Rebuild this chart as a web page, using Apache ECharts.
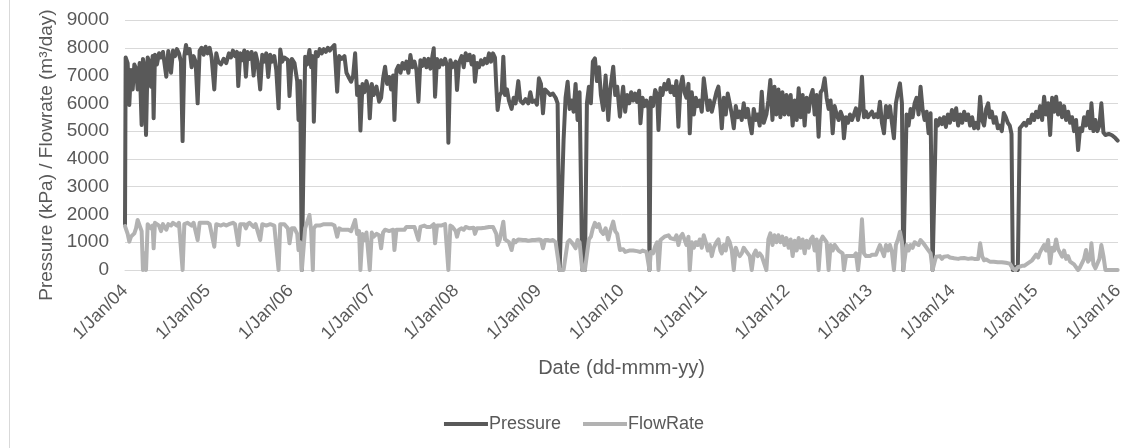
<!DOCTYPE html>
<html>
<head>
<meta charset="utf-8">
<title>Pressure / FlowRate</title>
<script src="https://cdn.jsdelivr.net/npm/echarts@6.0.0/dist/echarts.min.js"></script>
<style>
  html, body { margin: 0; padding: 0; background: #fff; }
  #chart { width: 1148px; height: 448px; }
</style>
</head>
<body>
<div id="chart"></div>
<script>
// sample dates as decimal years
const years = [
  2004.000, 2004.008, 2004.032, 2004.052, 2004.072, 2004.093, 2004.113, 2004.133, 2004.153, 2004.177,
  2004.201, 2004.217, 2004.233, 2004.254, 2004.274, 2004.294, 2004.314, 2004.334, 2004.346, 2004.362,
  2004.386, 2004.411, 2004.435, 2004.459, 2004.483, 2004.499, 2004.523, 2004.556, 2004.580, 2004.604,
  2004.628, 2004.652, 2004.676, 2004.696, 2004.717, 2004.737, 2004.757, 2004.781, 2004.805, 2004.829,
  2004.853, 2004.878, 2004.902, 2004.926, 2004.950, 2004.974, 2004.998, 2005.023, 2005.047, 2005.079,
  2005.103, 2005.127, 2005.159, 2005.192, 2005.224, 2005.256, 2005.280, 2005.304, 2005.329, 2005.353,
  2005.369, 2005.393, 2005.417, 2005.441, 2005.461, 2005.481, 2005.506, 2005.530, 2005.554, 2005.578,
  2005.602, 2005.634, 2005.659, 2005.683, 2005.707, 2005.731, 2005.755, 2005.779, 2005.804, 2005.828,
  2005.856, 2005.876, 2005.900, 2005.924,
  2005.968, 2005.988, 2006.016, 2006.048, 2006.081, 2006.097, 2006.117, 2006.137, 2006.157, 2006.177,
  2006.201, 2006.229, 2006.250, 2006.270, 2006.282, 2006.306, 2006.330, 2006.354, 2006.378, 2006.403,
  2006.427, 2006.451, 2006.475, 2006.499, 2006.531, 2006.564, 2006.588, 2006.620, 2006.652, 2006.676,
  2006.700, 2006.733, 2006.757, 2006.781, 2006.805, 2006.829, 2006.845, 2006.870, 2006.894, 2006.918,
  2006.942, 2006.958, 2006.982, 2007.006, 2007.039, 2007.071, 2007.095, 2007.119, 2007.143, 2007.167,
  2007.192, 2007.216, 2007.240, 2007.256, 2007.280, 2007.304, 2007.329, 2007.353, 2007.377, 2007.401,
  2007.425, 2007.449, 2007.473, 2007.498, 2007.522, 2007.546, 2007.570, 2007.594, 2007.618, 2007.643,
  2007.667, 2007.691, 2007.715, 2007.731, 2007.747, 2007.771, 2007.795, 2007.820, 2007.844, 2007.868,
  2007.892, 2007.908, 2007.932, 2007.957,
  2007.996, 2008.012, 2008.036, 2008.068, 2008.093, 2008.117, 2008.141, 2008.165, 2008.189, 2008.213,
  2008.229, 2008.254, 2008.278, 2008.302, 2008.326, 2008.350, 2008.374, 2008.399, 2008.423, 2008.447,
  2008.471, 2008.487, 2008.503, 2008.528, 2008.552, 2008.572, 2008.592, 2008.616, 2008.640, 2008.672,
  2008.697, 2008.721, 2008.753, 2008.777, 2008.809, 2008.841, 2008.874, 2008.898, 2008.922, 2008.954,
  2008.978, 2009.002, 2009.027, 2009.051, 2009.075, 2009.107, 2009.139, 2009.171, 2009.204, 2009.228,
  2009.252, 2009.276, 2009.300, 2009.324, 2009.349, 2009.373, 2009.397, 2009.421, 2009.445, 2009.469,
  2009.493, 2009.526, 2009.558, 2009.582, 2009.606, 2009.630, 2009.654, 2009.679, 2009.703, 2009.727,
  2009.751, 2009.779, 2009.808, 2009.840, 2009.864, 2009.900, 2009.924, 2009.948, 2009.981,
  2009.996, 2010.020, 2010.044, 2010.068, 2010.093, 2010.117, 2010.141, 2010.165, 2010.189, 2010.213,
  2010.229, 2010.254, 2010.278, 2010.302, 2010.326, 2010.338, 2010.354, 2010.382, 2010.407, 2010.431,
  2010.447, 2010.471, 2010.495, 2010.519, 2010.543, 2010.568, 2010.592, 2010.616, 2010.640, 2010.664,
  2010.688, 2010.713, 2010.737, 2010.761, 2010.785, 2010.809, 2010.825, 2010.849, 2010.874, 2010.898,
  2010.922, 2010.946, 2010.970, 2010.994, 2011.019, 2011.043, 2011.067, 2011.091, 2011.115, 2011.147,
  2011.171, 2011.196, 2011.212, 2011.236, 2011.260, 2011.284, 2011.308, 2011.333, 2011.357, 2011.381,
  2011.405, 2011.429, 2011.453, 2011.477, 2011.501, 2011.526, 2011.550, 2011.574, 2011.598, 2011.622,
  2011.646, 2011.670, 2011.695, 2011.719, 2011.751, 2011.775, 2011.799, 2011.824, 2011.848, 2011.872,
  2011.896, 2011.920, 2011.944, 2011.969, 2011.993,
  2012.020, 2012.044, 2012.068, 2012.093, 2012.117, 2012.141, 2012.165, 2012.189, 2012.213, 2012.237,
  2012.262, 2012.286, 2012.310, 2012.334, 2012.358, 2012.382, 2012.407, 2012.431, 2012.455, 2012.479,
  2012.503, 2012.527, 2012.552, 2012.576, 2012.600, 2012.624, 2012.648, 2012.672, 2012.688, 2012.713,
  2012.737, 2012.761, 2012.785, 2012.809, 2012.833, 2012.858, 2012.882, 2012.906, 2012.930, 2012.954,
  2012.978, 2013.002, 2013.027, 2013.051, 2013.075, 2013.099, 2013.123, 2013.147, 2013.172, 2013.196,
  2013.220, 2013.244, 2013.268, 2013.292, 2013.316, 2013.341, 2013.365, 2013.389, 2013.405, 2013.421,
  2013.445, 2013.469, 2013.494, 2013.518, 2013.542, 2013.566, 2013.590, 2013.614, 2013.638, 2013.663,
  2013.687, 2013.711, 2013.735, 2013.759, 2013.775, 2013.800, 2013.824, 2013.848, 2013.872, 2013.896,
  2013.920, 2013.944, 2013.969, 2013.993,
  2014.020, 2014.044, 2014.068, 2014.093, 2014.117, 2014.141, 2014.165, 2014.189, 2014.213, 2014.237,
  2014.262, 2014.286, 2014.310, 2014.334, 2014.358, 2014.382, 2014.407, 2014.431, 2014.451, 2014.475,
  2014.499, 2014.523, 2014.548, 2014.572, 2014.596, 2014.620, 2014.644, 2014.668, 2014.692, 2014.713,
  2014.729, 2014.761, 2014.789, 2014.813, 2014.841, 2014.866, 2014.890, 2014.914, 2014.938, 2014.962,
  2014.986, 2015.010, 2015.035, 2015.059, 2015.083, 2015.107, 2015.131, 2015.155, 2015.180, 2015.204,
  2015.228, 2015.252, 2015.276, 2015.300, 2015.324, 2015.348, 2015.373, 2015.397, 2015.421, 2015.445,
  2015.469, 2015.493, 2015.518, 2015.542, 2015.566, 2015.590, 2015.614, 2015.638, 2015.663, 2015.679,
  2015.703, 2015.727, 2015.751, 2015.775, 2015.799, 2015.824, 2015.848, 2015.888, 2015.928, 2015.968,
  2015.996
]

// kPa
const pressure = [
  1650, 7650, 7450, 5940, 7200, 6500, 7400, 7250, 6500, 7450,
  5220, 7600, 7350, 4860, 7650, 7500, 6600, 7700, 5460, 7750,
  7400, 7800, 7650, 7850, 7800, 6960, 7880, 7100, 7900, 7700,
  7950, 7800, 7500, 4640, 7700, 8100, 7800, 7950, 7300, 7700,
  7500, 6000, 7900, 8000, 7750, 8040, 7800, 8000, 7650, 6500,
  7800, 7500, 7400, 7600, 7450, 7800, 7650, 7900, 7700, 7850,
  6620, 7800, 7550, 7900, 6960, 7850, 7600, 7850, 7000, 7800,
  7500, 6500, 7750, 7500, 7800, 6950, 7750, 7500, 7700, 7200,
  5820, 7940, 7500, 7650,
  7560, 6260, 7600, 7450, 6800, 5400, 6800, 0, 0, 7680,
  7400, 7920, 7300, 7700, 5340, 7850, 7700, 7950, 7800, 7950,
  7850, 8000, 7900, 8000, 8100, 6420, 7700, 7600, 7700, 7100,
  6960, 6780, 7000, 7800, 6300, 6600, 5020, 6700, 6400, 6800,
  6500, 5460, 6700, 6300, 6600, 6060, 6200, 6900, 7320, 6700,
  6950, 6500, 7000, 5400, 7200, 7350, 7100, 7450, 7250, 7500,
  7100, 7740, 7300, 7500, 7200, 6060, 7550, 7350, 7600, 7300,
  7600, 7250, 7700, 7980, 6240, 7600, 7300, 7550, 7400, 7600,
  7350, 4580, 7550, 7300,
  7500, 6480, 7450, 7700, 7300, 7800, 7550, 7750, 7400, 7700,
  6780, 7450, 7300, 7550, 7400, 7600, 7450, 7800, 7500, 7800,
  7650, 6600, 5760, 6300, 6400, 7680, 6300, 6500, 6100, 5800,
  6200, 6000, 6800, 6100, 6000, 6150, 6000, 6400, 6050, 6100,
  5950, 6900, 6700, 5640, 6500, 6400, 6300, 6350, 6200, 6000,
  0, 0, 4680, 6200, 6780, 5800, 6100, 5700, 6700, 5400,
  6400, 0, 0, 6000, 6600, 6000, 7500, 7620, 6800, 7300,
  6300, 5760, 7000, 5400, 6500, 7320, 6300, 6600, 5520,
  6000, 6600, 5700, 6300, 6000, 6400, 6100, 6350, 6050, 6450,
  5280, 6200, 5900, 6100, 5800, 0, 6200, 5900, 6480, 6300,
  5040, 6550, 6300, 6700, 6500, 6840, 6400, 6600, 6300, 6800,
  5160, 6600, 6960, 6400, 6200, 6700, 4920, 6400, 5600, 6200,
  5900, 6100, 5700, 6900, 6300, 5760, 6100, 5700, 6000, 6400,
  6600, 5800, 5100, 6200, 5600, 6350, 6000, 5600, 5100, 5900,
  5500, 5700, 5400, 6000, 5500, 5800, 5300, 4920, 5800, 5400,
  5600, 5200, 6420, 5300, 5600, 6100, 6840, 5400, 6600, 5600,
  6500, 5500, 6400, 5600, 6300,
  5600, 6300, 5200, 6100, 5400, 6540, 5500, 6300, 5200, 6200,
  5700, 6250, 6480, 5600, 6300, 4800, 6400, 6500, 6900, 6200,
  5800, 6100, 4920, 5900, 5600, 5400, 5700, 5500, 4740, 5500,
  5300, 5600, 5400, 5600, 5820, 5400, 5800, 6960, 5500, 5700,
  5500, 5600, 5700, 5500, 5600, 5500, 6060, 5300, 4920, 5900,
  5500, 5900, 5300, 4740, 6000, 6400, 6720, 6000, 0, 0,
  5600, 5200, 5800, 5500, 6000, 6200, 5600, 6600, 5800, 5400,
  5700, 4920, 5640, 0, 0, 5400, 5200, 5460, 5250, 5500,
  5150, 5600, 5300, 5760,
  5400, 5820, 5200, 5600, 5300, 5700, 5400, 5600, 5200, 5500,
  5100, 5300, 5100, 6240, 5400, 5200, 5800, 6000, 5500, 5700,
  5300, 5500, 5100, 5200, 5000, 5650, 5500, 5300, 5200, 4900,
  0, 100, 0, 5100, 5200, 5300, 5200, 5400, 5300, 5600,
  5400, 5700, 5500, 5900, 5400, 6240, 5600, 6000, 4860, 6200,
  5700, 6240, 5600, 6000, 5500, 5900, 5400, 5700, 5300, 5500,
  5000, 5400, 4320, 5100, 5000, 5500, 5200, 5700, 5100, 6000,
  5000, 5400, 5000, 5200, 6000, 4950, 4860, 4900, 4850, 4750,
  4660
]

// m³/day
const flowRate = [
  1580, 1580, 1300, 1020, 1200, 1250, 1320, 1500, 1800, 1600,
  1400, 0, 600, 0, 1650, 1700, 1500, 1600, 780, 1700,
  1650, 1600, 1400, 1650, 1650, 1450, 1650, 1600, 1700, 1650,
  1600, 1700, 1650, 0, 1650, 1700, 1700, 1650, 1600, 1700,
  1700, 1080, 1700, 1650, 1700, 1750, 1700, 1650, 1600, 840,
  1650, 1600, 1600, 1650, 1600, 1650, 1600, 1700, 1650, 1600,
  900, 1650, 1600, 1650, 1500, 1650, 1700, 1650, 1550, 1650,
  1600, 1080, 1650, 1650, 1600, 1550, 1650, 1650, 1600, 1600,
  0, 1650, 1600, 1650,
  1500, 960, 1500, 1500, 1300, 720, 1000, 0, 0, 1500,
  1550, 1980, 1400, 0, 1500, 1600, 1650, 1600, 1650, 1650,
  1600, 1650, 1600, 1650, 1600, 1200, 1500, 1450, 1450, 1400,
  1450, 1400, 1450, 1800, 1300, 1400, 0, 1300, 1080, 1350,
  1300, 0, 1350, 1200, 1300, 1250, 780, 1350, 1450, 1400,
  1400, 1350, 1450, 720, 1450, 1500, 1450, 1500, 1450, 1550,
  1500, 1550, 1500, 1550, 1500, 1080, 1550, 1550, 1600, 1550,
  1600, 1550, 1600, 1650, 960, 1600, 1550, 1600, 1600, 1650,
  1600, 0, 1600, 1550,
  1400, 1200, 1450, 1500, 1450, 1550, 1500, 1500, 1480, 1520,
  1300, 1500, 1480, 1500, 1500, 1520, 1500, 1550, 1500, 1550,
  1500, 1300, 900, 1080, 1100, 1740, 1100, 1080, 1000, 720,
  1080, 1000, 1100, 1050, 1080, 1080, 1050, 1100, 1080, 1080,
  1050, 1100, 1080, 780, 1080, 1080, 1050, 1080, 1000, 960,
  0, 0, 0, 0, 1000, 1080, 1000, 900, 780, 1080,
  1000, 0, 0, 0, 1100, 1200, 1500, 1700, 1550, 1650,
  1400, 1300, 1500, 1100, 1400, 1740, 1400, 1300, 720,
  700, 750, 650, 700, 700, 750, 700, 720, 680, 720,
  650, 700, 680, 650, 650, 0, 650, 600, 850, 1000,
  0, 1080, 1100, 1200, 1150, 1250, 1150, 1200, 1100, 1250,
  900, 1200, 1300, 1100, 900, 1200, 0, 1000, 800, 1000,
  900, 1100, 800, 1250, 1000, 700, 900, 500, 800, 1000,
  1100, 700, 600, 900, 700, 1150, 1000, 700, 0, 800,
  600, 500, 600, 800, 700, 600, 500, 0, 550, 700,
  500, 600, 500, 550, 0, 1100, 1320, 900, 1250, 1000,
  1250, 1000, 1200, 900, 1150,
  800, 1100, 500, 1050, 700, 1150, 800, 1100, 600, 1050,
  800, 1100, 1200, 700, 1100, 0, 1050, 1200, 1150, 1000,
  0, 900, 700, 900, 800, 700, 750, 600, 0, 500,
  450, 500, 550, 500, 600, 0, 650, 1824, 600, 500,
  500, 500, 550, 500, 550, 500, 900, 700, 500, 900,
  700, 900, 650, 0, 900, 1100, 1380, 1000, 0, 0,
  900, 700, 900, 800, 1000, 1050, 900, 1080, 1000, 900,
  900, 700, 600, 0, 0, 480, 450, 500, 400, 480,
  450, 500, 450, 500,
  420, 450, 400, 420, 400, 430, 420, 400, 380, 420,
  400, 450, 400, 960, 500, 350, 380, 350, 300, 320,
  300, 300, 280, 300, 280, 280, 260, 250, 230, 200,
  60, 0, 100, 120, 150, 150, 200, 250, 300, 350,
  400, 550, 450, 650, 600, 900, 700, 1080, 240, 800,
  700, 1100, 750, 800, 480, 700, 400, 500, 300, 300,
  200, 250, 0, 100, 150, 400, 720, 300, 400, 960,
  200, 60, 100, 400, 900, 500, 0, 0, 0, 0,
  0
]

const seriesNames = ['Pressure', 'FlowRate']
const yearTicks = { min: 2004, max: 2016, step: 1 }
const valueTicks = { min: 0, max: 9000, step: 1000 }

const chart = echarts.init(document.getElementById('chart'), null, { renderer: 'canvas' })

const textColor = '#595959'
const font = '"Liberation Sans", Arial, sans-serif'

chart.setOption({
  animation: false,
  backgroundColor: '#fff',
  grid: {
    left: 125,
    right: 30,
    top: 20,
    bottom: 178
  },
  legend: {
    data: seriesNames,
    bottom: 10,
    left: 'center',
    icon: 'rect',
    itemWidth: 44,
    itemHeight: 4,
    itemGap: 22,
    textStyle: { color: textColor, fontSize: 18, fontFamily: font, padding: [0, 0, 0, -4] }
  },
  xAxis: {
    type: 'value',
    min: yearTicks.min,
    max: yearTicks.max,
    interval: yearTicks.step,
    name: 'Date (dd-mmm-yy)',
    nameLocation: 'middle',
    nameGap: 88,
    nameTextStyle: { color: textColor, fontSize: 20, fontFamily: font },
    axisLine: { show: true, lineStyle: { color: '#d9d9d9', width: 1 } },
    axisTick: { show: false },
    splitLine: { show: false },
    axisLabel: {
      rotate: 45,
      margin: 18,
      color: textColor,
      fontSize: 18,
      fontFamily: font,
      formatter: v => '1/Jan/' + String(v).slice(2)
    }
  },
  yAxis: {
    type: 'value',
    min: valueTicks.min,
    max: valueTicks.max,
    interval: valueTicks.step,
    name: 'Pressure (kPa) / Flowrate (m³/day)',
    nameLocation: 'middle',
    nameRotate: 90,
    nameGap: 62,
    nameTextStyle: { color: textColor, fontSize: 19, fontFamily: font, padding: [0, 20, 0, 0] },
    axisLine: { show: false },
    axisTick: { show: false },
    splitLine: { lineStyle: { color: '#d9d9d9', width: 1 } },
    axisLabel: {
      color: textColor,
      fontSize: 19,
      fontFamily: font,
      margin: 16,
      formatter: v => String(v)
    }
  },
  graphic: [{
    type: 'line',
    shape: { x1: 9.5, y1: 0, x2: 9.5, y2: 448 },
    style: { stroke: '#d9d9d9', lineWidth: 1 },
    silent: true
  }],
  series: [
    {
      name: seriesNames[0],
      type: 'line',
      data: years.map((t, i) => [t, pressure[i]]),
      showSymbol: false,
      color: '#595959',
      lineStyle: { width: 4, join: 'round', cap: 'round' }
    },
    {
      name: seriesNames[1],
      type: 'line',
      data: years.map((t, i) => [t, flowRate[i]]),
      showSymbol: false,
      color: '#b2b2b2',
      lineStyle: { width: 4, join: 'round', cap: 'round' }
    }
  ]
})
</script>
</body>
</html>
